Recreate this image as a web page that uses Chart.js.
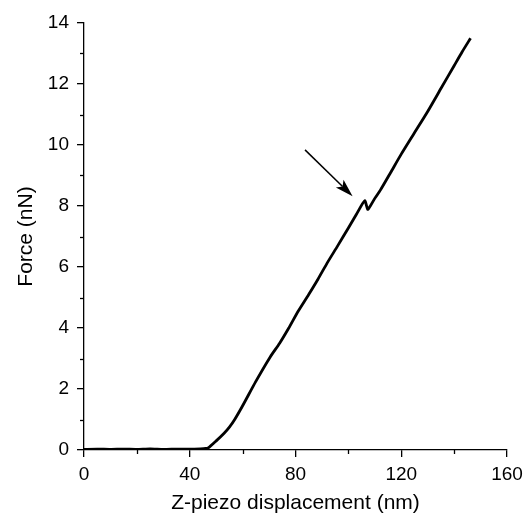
<!DOCTYPE html>
<html><head><meta charset="utf-8">
<script src="https://cdn.jsdelivr.net/npm/chart.js@4/dist/chart.umd.min.js"></script>
<style>html,body{margin:0;padding:0;background:#fff}#wrap{width:524px;height:516px}</style>
</head><body><div id="wrap"><canvas id="c" width="524" height="516"></canvas></div>
<script>
const zDisp = [0,5,10,15,20,25,30,35,40,44,46,47,50,53,55,57,60,65,70.5,74,77.4,81,85,88.5,91.9,96,100,103,106.2,107.3,108.3,110,112.1,116,120,125,130,135,140,143,146.2];
const force = [0.02,0.03,0.02,0.03,0.02,0.04,0.02,0.03,0.03,0.04,0.05,0.07,0.3,0.55,0.75,1.0,1.45,2.25,3.06,3.5,3.99,4.55,5.1,5.6,6.12,6.7,7.28,7.72,8.17,7.89,8.0,8.25,8.52,9.1,9.7,10.4,11.1,11.85,12.6,13.05,13.5];
const xTicks = [0,40,80,120,160];
const yTicks = [0,2,4,6,8,10,12,14];
const arrowFrom = {x:83.6, y:9.84};
const arrowTo = {x:101.6, y:8.32};

const extras = {
  id:'extras',
  afterDraw(chart){
    const ctx = chart.ctx, xs = chart.scales.x, ys = chart.scales.y;
    ctx.save();
    ctx.strokeStyle = '#000'; ctx.lineWidth = 1.3;
    const yb = ys.bottom, xl = xs.left;
    for (let v = 20; v < 160; v += 40){
      const px = Math.round(xs.getPixelForValue(v)) + 0.5;
      ctx.beginPath(); ctx.moveTo(px, yb); ctx.lineTo(px, yb + 4); ctx.stroke();
    }
    for (let v = 1; v < 14; v += 2){
      const py = Math.round(ys.getPixelForValue(v)) + 0.5;
      ctx.beginPath(); ctx.moveTo(xl, py); ctx.lineTo(xl - 4, py); ctx.stroke();
    }
    const x1 = xs.getPixelForValue(arrowFrom.x), y1 = ys.getPixelForValue(arrowFrom.y);
    const x2 = xs.getPixelForValue(arrowTo.x), y2 = ys.getPixelForValue(arrowTo.y);
    const a = Math.atan2(y2 - y1, x2 - x1);
    const hl = 18, hw = 5.5;
    const bx = x2 - hl*Math.cos(a), by = y2 - hl*Math.sin(a);
    ctx.lineWidth = 1.5;
    ctx.beginPath(); ctx.moveTo(x1, y1); ctx.lineTo(bx + 4*Math.cos(a), by + 4*Math.sin(a)); ctx.stroke();
    ctx.fillStyle = '#000';
    ctx.beginPath();
    ctx.moveTo(x2, y2);
    ctx.lineTo(bx + hw*Math.sin(a), by - hw*Math.cos(a));
    ctx.lineTo(bx + 4*Math.cos(a), by + 4*Math.sin(a));
    ctx.lineTo(bx - hw*Math.sin(a), by + hw*Math.cos(a));
    ctx.closePath(); ctx.fill();
    ctx.restore();
  }
};

const FONT = 'Liberation Sans, Arial, sans-serif';
new Chart(document.getElementById('c'), {
  type:'line',
  data:{ datasets:[{ data: zDisp.map((x,i)=>({x, y:force[i]})), borderColor:'#000', borderWidth:2.8, pointRadius:0, tension:0.2, fill:false }]},
  options:{
    responsive:false, animation:false, devicePixelRatio:1,
    layout:{ padding:{ left:0, right:17, top:23, bottom:0 } },
    plugins:{ legend:{display:false}, tooltip:{enabled:false} },
    scales:{
      x:{ type:'linear', min:0, max:160,
        afterBuildTicks(s){ s.ticks = xTicks.map(v=>({value:v})); },
        afterFit(s){ s.height = 66; s.paddingRight = 0; s.paddingLeft = 0; },
        grid:{ drawOnChartArea:false, drawTicks:true, tickLength:7, color:'#000', lineWidth:1.3 },
        border:{ color:'#000', width:1.3 },
        ticks:{ color:'#000', font:{ family:FONT, size:19 }, padding:6, maxRotation:0 },
        title:{ display:true, text:'Z-piezo displacement (nm)', color:'#000', font:{ family:FONT, size:21 }, padding:{top:2,bottom:0} }
      },
      y:{ type:'linear', min:0, max:14,
        afterBuildTicks(s){ s.ticks = yTicks.map(v=>({value:v})); },
        afterFit(s){ s.width = 84; s.paddingTop = 0; s.paddingBottom = 0; },
        grid:{ drawOnChartArea:false, drawTicks:true, tickLength:7, color:'#000', lineWidth:1.3 },
        border:{ color:'#000', width:1.3 },
        ticks:{ color:'#000', font:{ family:FONT, size:19 }, padding:8 },
        title:{ display:true, text:'Force (nN)', color:'#000', font:{ family:FONT, size:21 }, padding:{top:14,bottom:0} }
      }
    }
  },
  plugins:[extras]
});
</script></body></html>
